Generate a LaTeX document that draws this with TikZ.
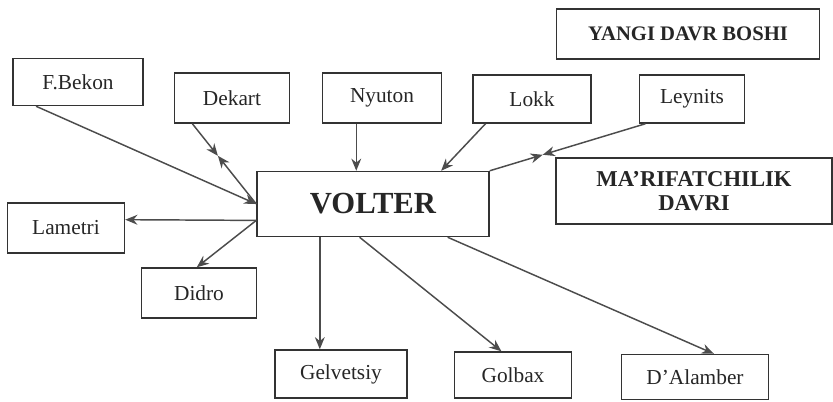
\documentclass[tikz,border=0pt]{standalone}
\usepackage{fontspec}
\setmainfont{Liberation Serif}
\usetikzlibrary{arrows.meta,calc}

\begin{document}
\begin{tikzpicture}[x=0.75pt, y=-0.75pt,
  box/.style={draw=black!80, line width=1.1pt, inner sep=0pt, text=black!85,
    font=\fontsize{16}{18}\selectfont},
  sz/.style 2 args={minimum width=#1*0.75pt, minimum height=#2*0.75pt},
  head/.style={box, align=center, font=\fontsize{15.5}{17}\selectfont\bfseries},
  arr/.style={-{Stealth[length=3.2mm,width=2.6mm]}, line width=1.1pt, draw=black!70}
]
  \useasboundingbox (0,0) rectangle (833,401);

  % top row
  \node[box, sz={130}{47}] (bekon) at (78,82) {F.Bekon};
  \node[box, sz={115}{50}] (dekart) at (232,98) {Dekart};
  \node[box, sz={119}{50}] (nyuton) at (382,98) {Nyuton};
  \node[box, sz={118}{48}] (lokk) at (532,99) {Lokk};
  \node[box, sz={105}{48}] (leynits) at (692,99) {Leynits};

  % periods
  \node[head, sz={263}{50}] (yangi) at (688,34) {YANGI DAVR BOSHI};
  \node[head, sz={276}{66}, font=\fontsize{17}{18}\selectfont\bfseries]
    (marif) at (694,191) {MA’RIFATCHILIK\\DAVRI};

  % centre
  \node[box, sz={232}{65}, font=\fontsize{23}{26}\selectfont\bfseries]
    (volter) at (373,204) {VOLTER};

  % lower row
  \node[box, sz={117}{50}] (lametri) at (66,228) {Lametri};
  \node[box, sz={115}{50}] (didro) at (199,293) {Didro};
  \node[box, sz={132}{48}] (gelv) at (341,374) {Gelvetsiy};
  \node[box, sz={117}{46}] (golbax) at (513,375) {Golbax};
  \node[box, sz={147}{45}] (dalamber) at (695,377) {D’Alamber};

  \coordinate (dkmid) at ($(dekart.213)!0.4!(volter.west)$);
  \coordinate (lymid) at ($(leynits.208)!0.66!(volter.north east)$);

  % into Volter
  \draw[arr] (bekon.210) -- (volter.west);
  \draw[arr] (dekart.213) -- (dkmid);
  \draw[arr] (volter.west) -- (dkmid);
  \draw[arr] (nyuton.225) -- (nyuton.225 |- volter.north);
  \draw[arr] (lokk.208) -- (volter.26);
  \draw[arr] (leynits.208) -- (lymid);
  \draw[arr] (volter.north east) -- (lymid);

  % out of Volter
  \draw[arr] (volter.188) -- (lametri.8);
  \draw[arr] (volter.188) -- (didro.95);
  \draw[arr] (volter.212) -- (volter.212 |- gelv.north);
  \draw[arr] (volter.248) -- (golbax.116);
  \draw[arr] (volter.336) -- (dalamber.51);
\end{tikzpicture}
\end{document}
